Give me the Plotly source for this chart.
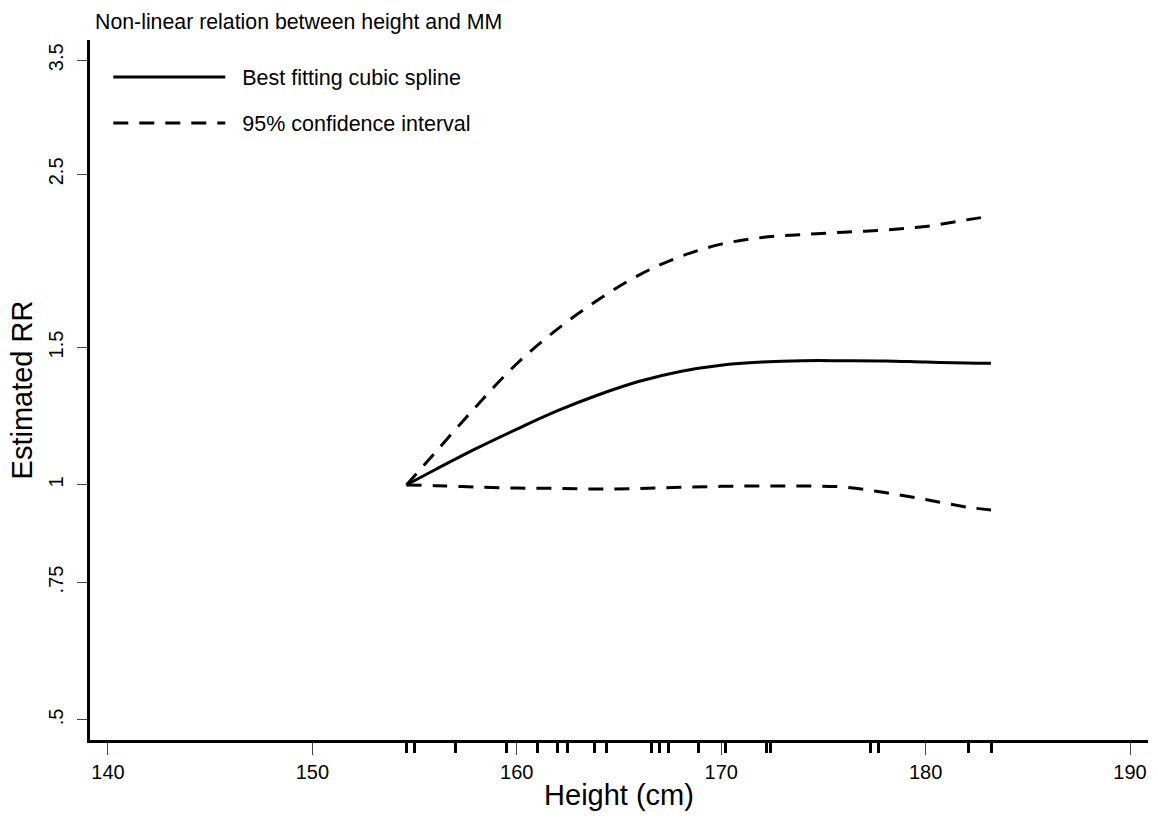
import plotly.graph_objects as go

# Data
height = [154.6, 156, 158, 160, 162, 164, 166, 168, 170, 172, 174, 176, 178, 180, 182, 183.2]
rr_fit = [1.0, 1.046, 1.113, 1.179, 1.245, 1.305, 1.358, 1.398, 1.424, 1.437, 1.443, 1.443, 1.442, 1.437, 1.433, 1.432]
ci_upper = [1.0, 1.100, 1.260, 1.430, 1.585, 1.728, 1.859, 1.962, 2.035, 2.075, 2.094, 2.108, 2.122, 2.144, 2.186, 2.211]
ci_lower = [1.0, 0.998, 0.994, 0.991, 0.990, 0.988, 0.990, 0.993, 0.996, 0.997, 0.997, 0.994, 0.978, 0.958, 0.937, 0.929]
rug_heights = [154.6, 155.0, 157.0, 159.5, 161.0, 162.0, 162.5, 163.8, 164.4, 166.6, 167.0, 167.4,
               168.9, 170.2, 172.2, 172.4, 177.3, 177.7, 182.1, 183.2]

x_ticks = [140, 150, 160, 170, 180, 190]
y_ticks = [0.5, 0.75, 1, 1.5, 2.5, 3.5]
y_ticktext = [".5", ".75", "1", "1.5", "2.5", "3.5"]

FONT = "Liberation Sans, Arial, sans-serif"
X_RANGE = [139.12, 190.88]
Y_RANGE_LOG = [-0.3267, 0.5701]
DASH_CURVE = "15px,11px"
NB = "\u00a0\u00a0"

fig = go.Figure()
fig.add_trace(go.Scatter(x=height, y=rr_fit, mode="lines", name=NB + "Best fitting cubic spline",
                         legendgroup="fit",
                         line=dict(color="black", width=3, shape="spline", smoothing=1.0)))
fig.add_trace(go.Scatter(x=height, y=ci_upper, mode="lines", name=NB + "95% confidence interval",
                         legendgroup="ci",
                         line=dict(color="black", width=3, dash=DASH_CURVE, shape="spline", smoothing=1.0)))
fig.add_trace(go.Scatter(x=height, y=ci_lower, mode="lines", name="95% confidence interval",
                         legendgroup="ci", showlegend=False,
                         line=dict(color="black", width=3, dash=DASH_CURVE, shape="spline", smoothing=1.0)))
# invisible trace that activates the rug axis
fig.add_trace(go.Scatter(x=[rug_heights[0]], y=[1], xaxis="x2", mode="markers", showlegend=False,
                         hoverinfo="skip", marker=dict(opacity=0)))

fig.update_layout(
    width=1158, height=821,
    margin=dict(l=90, r=10, t=40, b=81),
    paper_bgcolor="white", plot_bgcolor="white",
    font=dict(family=FONT, color="black"),
    title=dict(text="Non-linear relation between height and MM", xref="container", yref="container",
               x=95 / 1158, xanchor="left", y=1 - 22 / 821, yanchor="middle",
               font=dict(size=21.3, family=FONT, color="black")),
    legend=dict(x=0.0173, y=0.9764, xanchor="left", yanchor="top", bgcolor="rgba(0,0,0,0)",
                font=dict(size=21.5, family=FONT), itemwidth=112, tracegroupgap=15),
    xaxis=dict(range=X_RANGE, tickvals=x_ticks, showgrid=False, zeroline=False,
               showline=True, linecolor="black", linewidth=3, ticks="outside", ticklen=12,
               tickwidth=1, tickcolor="#444", tickfont=dict(size=20),
               title=dict(text="Height (cm)", font=dict(size=29), standoff=3)),
    xaxis2=dict(overlaying="x", anchor="y", side="bottom", range=X_RANGE, tickvals=rug_heights,
                showticklabels=False, ticks="outside", ticklen=12, tickwidth=3, tickcolor="black",
                showgrid=False, zeroline=False, showline=False),
    yaxis=dict(type="log", range=Y_RANGE_LOG, tickvals=y_ticks, ticktext=y_ticktext,
               tickangle=-90, showgrid=False, zeroline=False, ticklabelstandoff=6,
               showline=True, linecolor="black", linewidth=3, ticks="outside", ticklen=10,
               tickwidth=1, tickcolor="#444", tickfont=dict(size=20),
               title=dict(text="Estimated RR", font=dict(size=29), standoff=4)),
    showlegend=True,
)

fig.write_html("out.html")
